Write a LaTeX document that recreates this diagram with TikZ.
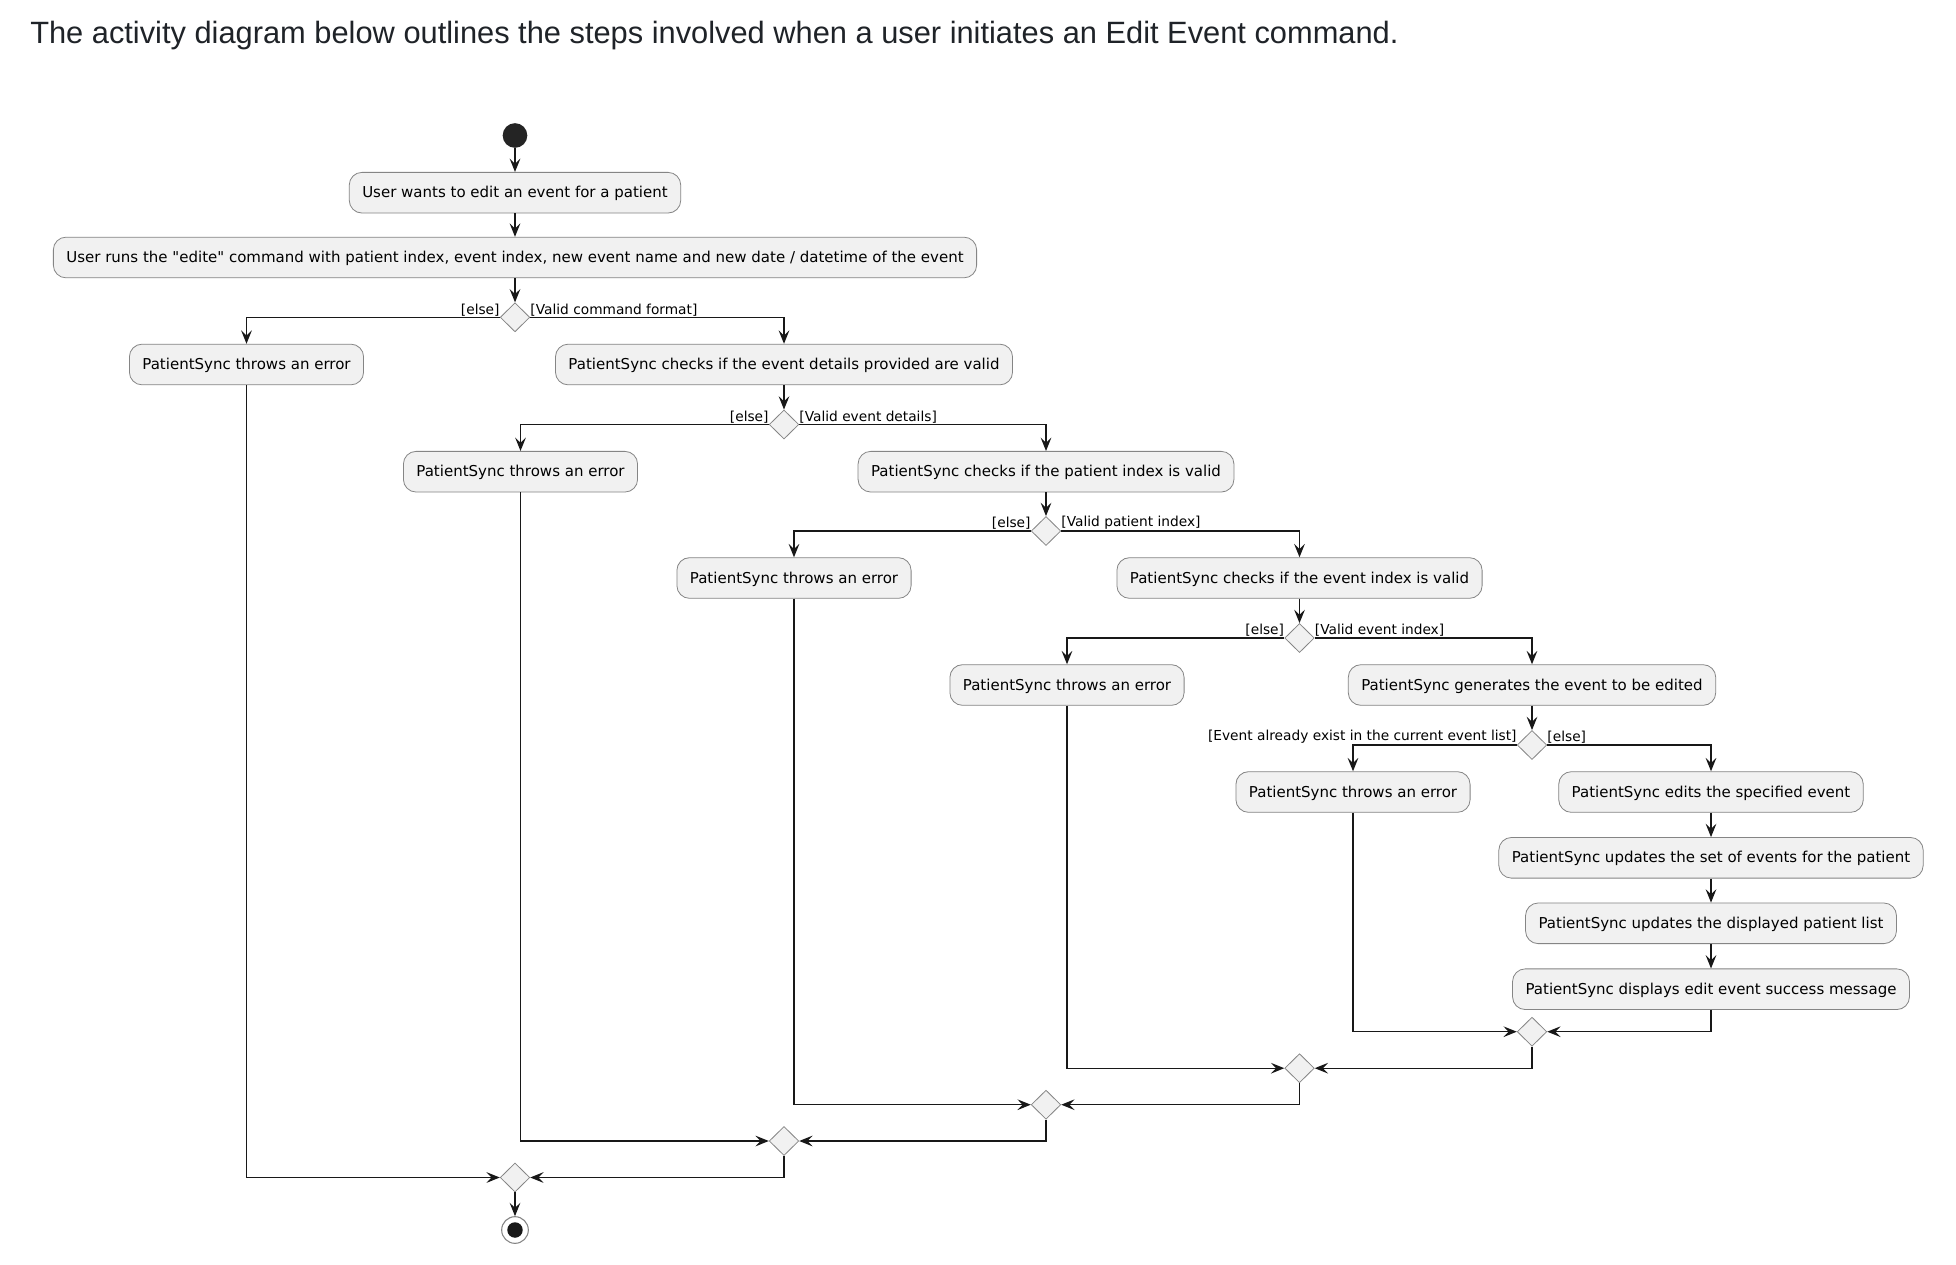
\documentclass[tikz,border=0pt]{standalone}
\usepackage{fontspec}
\setmainfont{DejaVu Sans}
\newfontfamily\boxfont{DejaVu Sans}
\newfontfamily\titlefont{Liberation Sans}
\usetikzlibrary{arrows.meta,shapes.geometric}
\definecolor{linec}{HTML}{181818}
\definecolor{boxfill}{HTML}{F1F1F1}
\definecolor{boxline}{HTML}{858585}
\definecolor{titlec}{HTML}{1F2328}
\tikzset{
  actbox/.style={draw=boxline, line width=0.6pt, fill=boxfill, rounded corners=9.5pt,
    minimum height=30.5pt, inner xsep=9.75pt, inner ysep=0pt,
    font=\boxfont\fontsize{11.25pt}{13pt}\selectfont, text height=10.4pt, text depth=2.65pt},
  dia/.style={draw=boxline, line width=0.6pt, fill=boxfill, diamond, inner sep=0pt,
    minimum width=22.2pt, minimum height=21.8pt},
  guard/.style={inner sep=0pt, font=\boxfont\fontsize{10.3pt}{12pt}\selectfont},
  flow/.style={draw=linec, line width=0.94pt, -{Stealth[length=10pt,width=8pt,inset=3.8pt]}},
}
\begin{document}
\begin{tikzpicture}[x=0.75pt,y=-0.75pt]
\useasboundingbox (0,0) rectangle (1956,1264);
\fill[white] (0,0) rectangle (1956,1264);
% title
\node[anchor=base west, inner sep=0pt, text=titlec] (title) at (30,43.5)
  {\resizebox{1026pt}{!}{\titlefont The activity diagram below outlines the steps involved when a user initiates an Edit Event command.}};
% nodes
\node[circle, fill=linec!95!white, minimum size=18.5pt, inner sep=0pt] (start) at (515,135.5) {};
\node[actbox] (A1) at (515,192.7) {User wants to edit an event for a patient};
\node[actbox] (A2) at (515,257.5) {User runs the "edite" command with patient index, event index, new event name and new date / datetime of the event};
\node[dia] (D1) at (515,317.3) {};
\node[actbox] (E1) at (246.5,364.5) {PatientSync throws an error};
\node[actbox] (C1) at (784,364.5) {PatientSync checks if the event details provided are valid};
\node[dia] (D2) at (784,424.5) {};
\node[actbox] (E2) at (520.5,471.7) {PatientSync throws an error};
\node[actbox] (C2) at (1046,471.7) {PatientSync checks if the patient index is valid};
\node[dia] (D3) at (1046,531) {};
\node[actbox] (E3) at (794,578) {PatientSync throws an error};
\node[actbox] (C3) at (1299.5,578) {PatientSync checks if the event index is valid};
\node[dia] (D4) at (1299.5,638) {};
\node[actbox] (E4) at (1067,685) {PatientSync throws an error};
\node[actbox] (C4) at (1532,685) {PatientSync generates the event to be edited};
\node[dia] (D5) at (1532,745) {};
\node[actbox] (E5) at (1353,792) {PatientSync throws an error};
\node[actbox] (S1) at (1711,792) {PatientSync edits the specified event};
\node[actbox] (S2) at (1711,857.8) {PatientSync updates the set of events for the patient};
\node[actbox] (S3) at (1711,923.3) {PatientSync updates the displayed patient list};
\node[actbox] (S4) at (1711,989.2) {PatientSync displays edit event success message};
\node[dia] (M5) at (1532,1031.7) {};
\node[dia] (M4) at (1299.5,1068.2) {};
\node[dia] (M3) at (1046,1104.7) {};
\node[dia] (M2) at (784,1141) {};
\node[dia] (M1) at (515,1177.5) {};
\node[circle, draw=boxline, line width=0.8pt, fill=white, minimum size=20pt, inner sep=0pt] (end) at (515,1230) {};
\fill[linec] (end.center) circle (5.8pt);
% guards
\node[guard, anchor=south east] (g1l) at ([yshift=0.8pt]D1.west) {[else]};
\node[guard, anchor=south west] (g1r) at ([yshift=0.8pt]D1.east) {[Valid command format]};
\node[guard, anchor=south east] (g2l) at ([yshift=0.8pt]D2.west) {[else]};
\node[guard, anchor=south west] (g2r) at ([yshift=0.8pt]D2.east) {[Valid event details]};
\node[guard, anchor=south east] (g3l) at ([yshift=0.8pt]D3.west) {[else]};
\node[guard, anchor=south west] (g3r) at ([yshift=0.8pt]D3.east) {[Valid patient index]};
\node[guard, anchor=south east] (g4l) at ([yshift=0.8pt]D4.west) {[else]};
\node[guard, anchor=south west] (g4r) at ([yshift=0.8pt]D4.east) {[Valid event index]};
\node[guard, anchor=south east] (g5l) at ([yshift=0.8pt]D5.west) {[Event already exist in the current event list]};
\node[guard, anchor=south west] (g5r) at ([yshift=0.8pt]D5.east) {[else]};
% flows
\draw[flow] (start) -- (A1);
\draw[flow] (A1) -- (A2);
\draw[flow] (A2) -- (D1);
\draw[flow] (D1.west) -| (E1.north);
\draw[flow] (D1.east) -| (C1.north);
\draw[flow] (C1) -- (D2);
\draw[flow] (D2.west) -| (E2.north);
\draw[flow] (D2.east) -| (C2.north);
\draw[flow] (C2) -- (D3);
\draw[flow] (D3.west) -| (E3.north);
\draw[flow] (D3.east) -| (C3.north);
\draw[flow] (C3) -- (D4);
\draw[flow] (D4.west) -| (E4.north);
\draw[flow] (D4.east) -| (C4.north);
\draw[flow] (C4) -- (D5);
\draw[flow] (D5.west) -| (E5.north);
\draw[flow] (D5.east) -| (S1.north);
\draw[flow] (S1) -- (S2);
\draw[flow] (S2) -- (S3);
\draw[flow] (S3) -- (S4);
% merges
\draw[flow] (E5.south) |- (M5.west);
\draw[flow] (S4.south) |- (M5.east);
\draw[flow] (E4.south) |- (M4.west);
\draw[flow] (M5.south) |- (M4.east);
\draw[flow] (E3.south) |- (M3.west);
\draw[flow] (M4.south) |- (M3.east);
\draw[flow] (E2.south) |- (M2.west);
\draw[flow] (M3.south) |- (M2.east);
\draw[flow] (E1.south) |- (M1.west);
\draw[flow] (M2.south) |- (M1.east);
\draw[flow] (M1) -- (end);
\end{tikzpicture}
\end{document}
